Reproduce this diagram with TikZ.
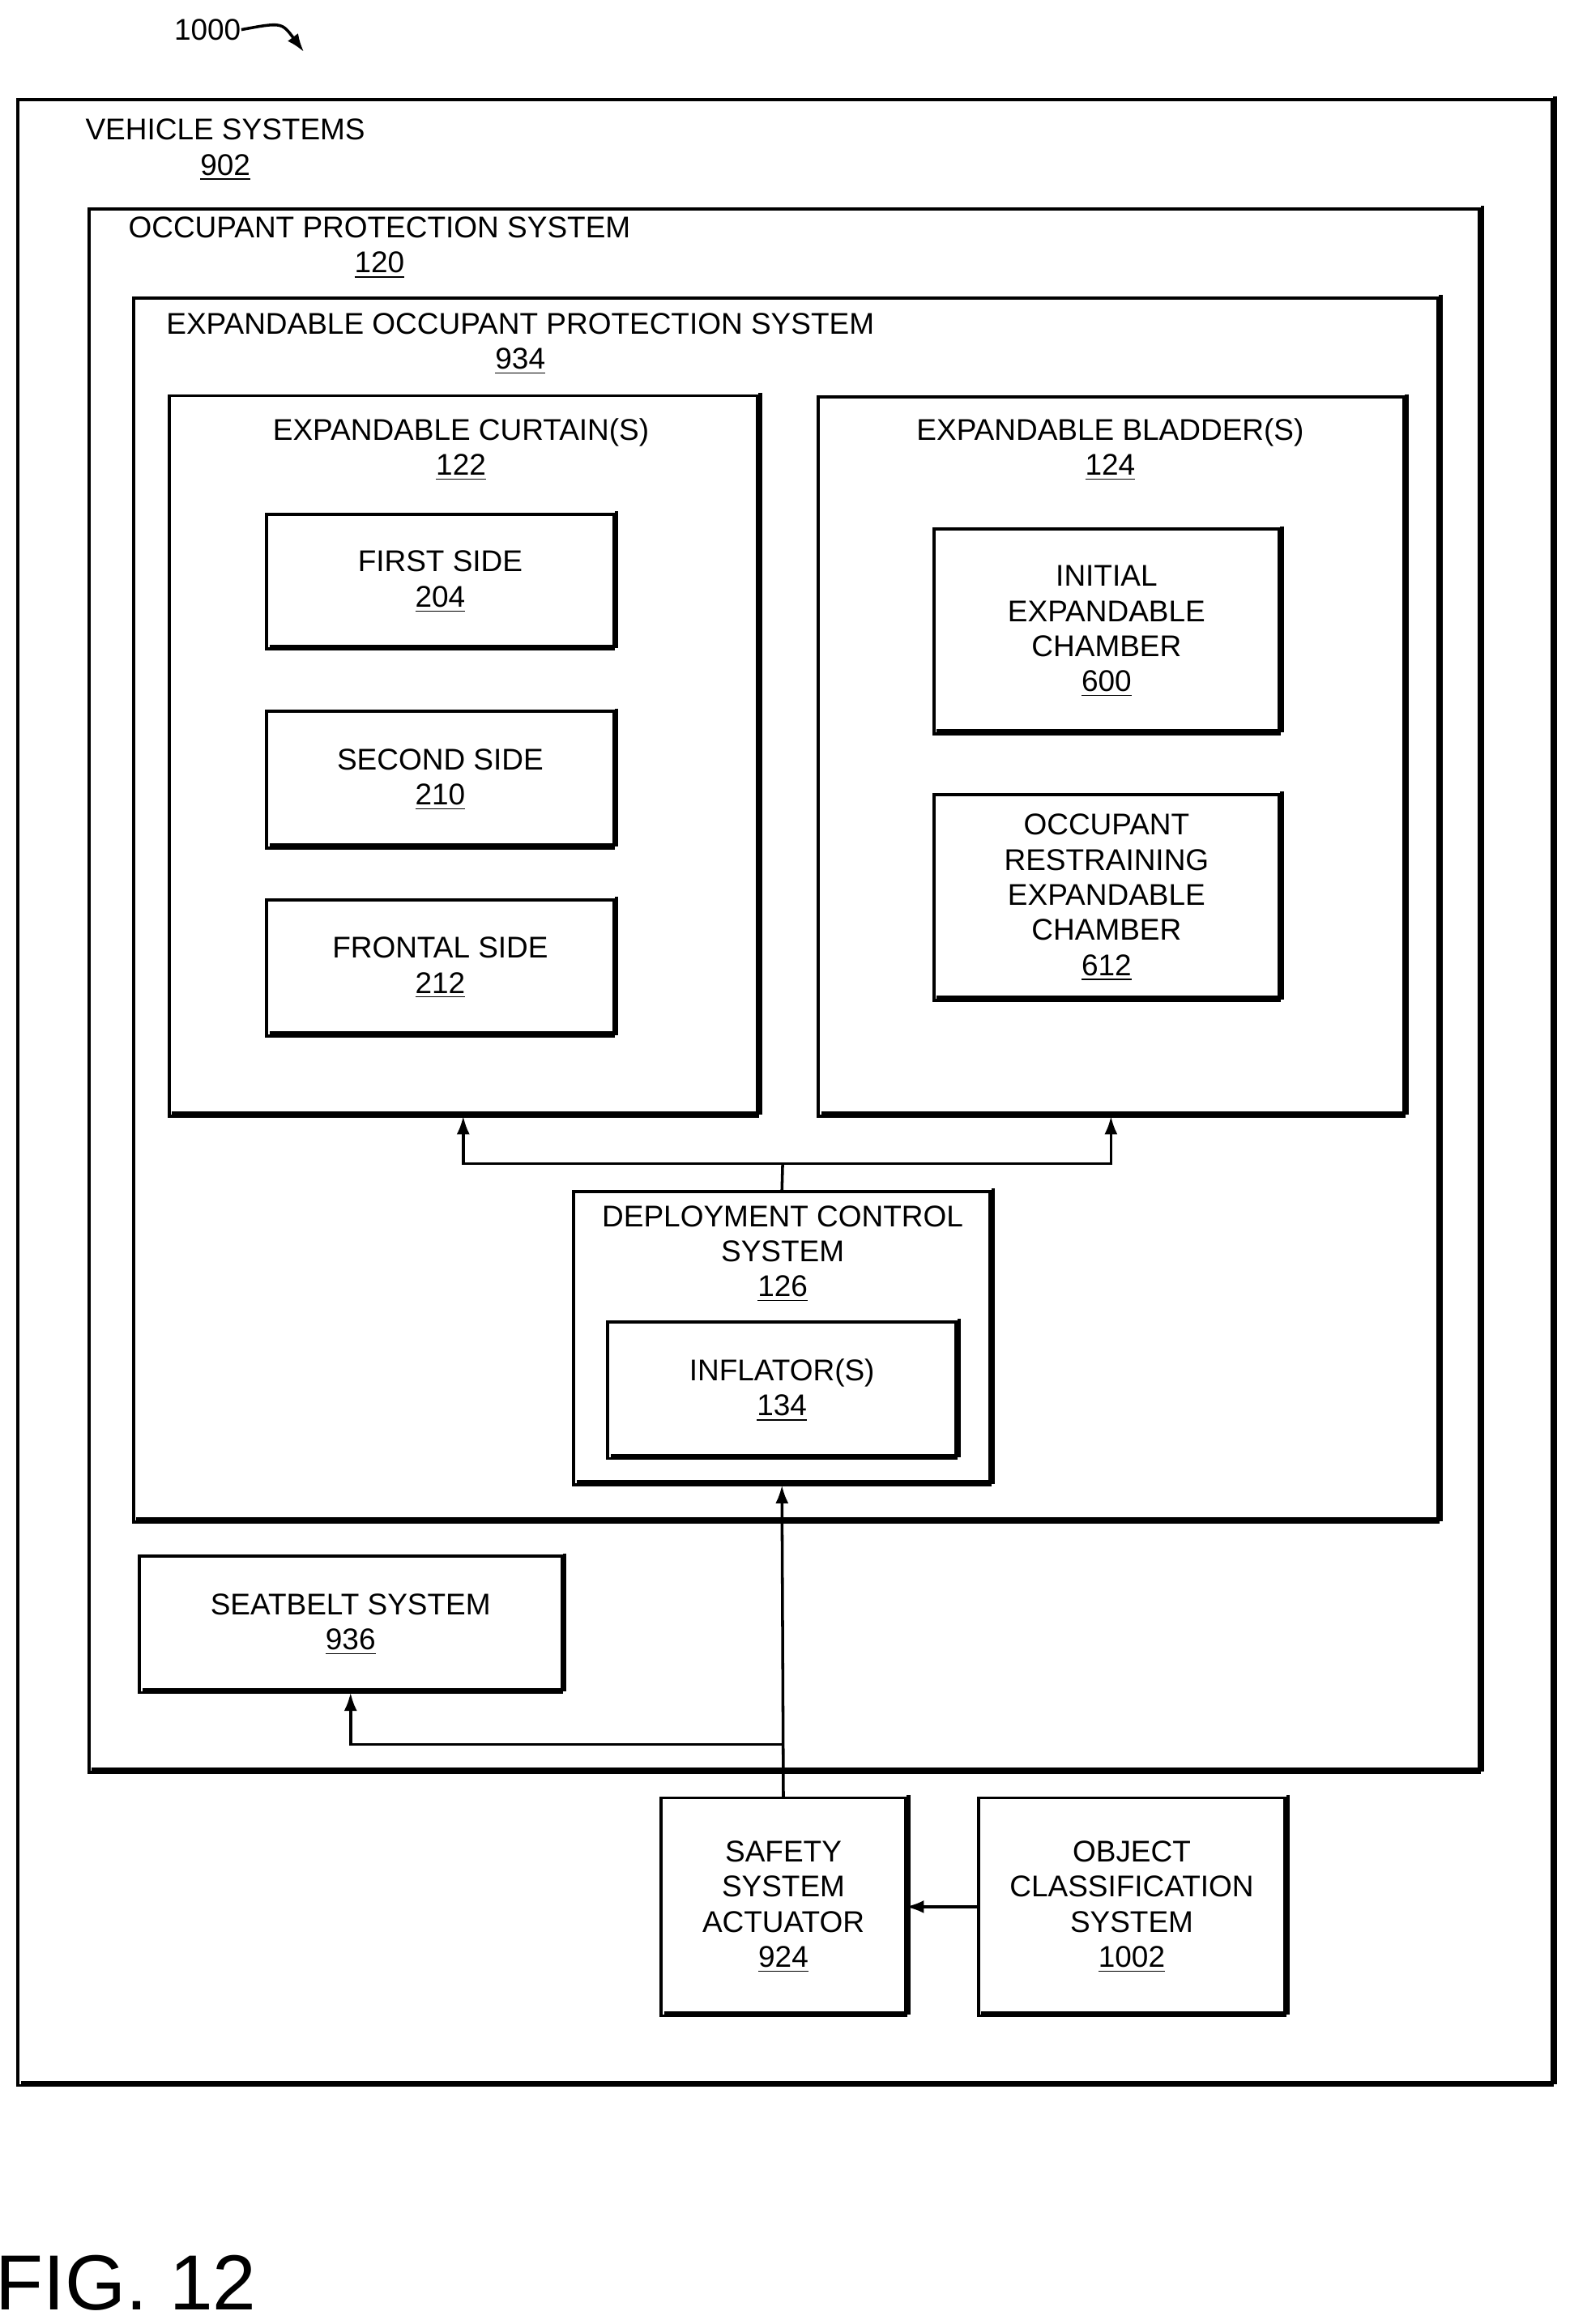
\documentclass[tikz,border=0pt]{standalone}
\usepackage{fontspec}
\setmainfont{Liberation Sans}
\usetikzlibrary{arrows,arrows.meta,positioning,calc}

% box from corners (display pixel units), name, corners
\newcommand{\mkbox}[5]{%
  \pgfmathsetmacro{\bw}{(#4-#2)*0.02}%
  \pgfmathsetmacro{\bh}{(#5-#3)*0.02}%
  \node[blk, minimum width=\bw cm, minimum height=\bh cm] (#1) at ({(#2+#4)/2},{(#3+#5)/2}) {};
  \draw[shd] ($(#1.north east)+(2,-2)$) -- ($(#1.south east)+(2,-2)$) -- ($(#1.south west)+(2,-2)$);
}

\begin{document}
\begin{tikzpicture}[x=0.02cm, y=-0.02cm, font=\fontsize{11.5}{13.5}\selectfont,
    blk/.style={draw, line width=1.2pt, inner sep=0pt, outer sep=0pt},
    shd/.style={line width=1.4pt},
    lbl/.style={align=center, inner sep=0pt},
    arr/.style={-{Latex[length=7pt,width=5pt]}, line width=1.1pt}]
    \useasboundingbox (0,0) rectangle (1059,1568);

    % outer frames
    \mkbox{veh}{12}{67}{1047}{1407}
    \node[lbl, anchor=north] (vehl) at (152,80) {VEHICLE SYSTEMS\\\underline{902}};
    \mkbox{ops}{60}{141}{998}{1196}
    \node[lbl, anchor=north] (opsl) at (256,146) {OCCUPANT PROTECTION SYSTEM\\\underline{120}};
    \mkbox{eops}{90}{201}{970}{1027}
    \node[lbl, anchor=north] (eopsl) at (351,211) {EXPANDABLE OCCUPANT PROTECTION SYSTEM\\\underline{934}};

    % curtains
    \mkbox{cur}{114}{267}{511}{753}
    \node[lbl, anchor=north] (curl) at (311,282) {EXPANDABLE CURTAIN(S)\\\underline{122}};
    \mkbox{fst}{180}{347}{414}{438}
    \node[lbl] at (fst) {FIRST SIDE\\\underline{204}};
    \mkbox{snd}{180}{480}{414}{572}
    \node[lbl] at (snd) {SECOND SIDE\\\underline{210}};
    \mkbox{frn}{180}{607}{414}{699}
    \node[lbl] at (frn) {FRONTAL SIDE\\\underline{212}};

    % bladders
    \mkbox{bld}{552}{268}{947}{753}
    \node[lbl, anchor=north] (bldl) at (749,282) {EXPANDABLE BLADDER(S)\\\underline{124}};
    \mkbox{ini}{630}{357}{863}{495}
    \node[lbl] at (ini) {INITIAL\\EXPANDABLE\\CHAMBER\\\underline{600}};
    \mkbox{ore}{630}{536}{863}{675}
    \node[lbl] at (ore) {OCCUPANT\\RESTRAINING\\EXPANDABLE\\CHAMBER\\\underline{612}};

    % deployment
    \mkbox{dcs}{387}{804}{668}{1002}
    \node[lbl, anchor=north] (dcsl) at (528,813) {DEPLOYMENT CONTROL\\SYSTEM\\\underline{126}};
    \mkbox{inf}{410}{892}{645}{984}
    \node[lbl] at (inf) {INFLATOR(S)\\\underline{134}};

    \mkbox{sbs}{94}{1050}{379}{1142}
    \node[lbl] at (sbs) {SEATBELT SYSTEM\\\underline{936}};
    \mkbox{ssa}{446}{1213}{611}{1360}
    \node[lbl] at (ssa) {SAFETY\\SYSTEM\\ACTUATOR\\\underline{924}};
    \mkbox{ocs}{660}{1213}{867}{1360}
    \node[lbl] at (ocs) {OBJECT\\CLASSIFICATION\\SYSTEM\\\underline{1002}};

    % connectors
    \coordinate (split) at (528,785);
    \coordinate (tee) at (528,1177);
    \draw[line width=1.1pt] (dcs.north) -- (split);
    \draw[arr] (split) -| (cur.south);
    \draw[arr] (split) -| (bld.south);
    \draw[arr] (ssa.north) -- (dcs.south);
    \draw[arr] (tee) -| (sbs.south);
    \draw[arr] (ocs.west) -- (ssa.east);

    % figure labels
    \node[lbl] (ref) at (140,20) {1000};
    \coordinate (refend) at (205,35);
    \draw[arr] (ref.east) .. controls (190,15) .. (refend);
    \node[lbl, font=\fontsize{30}{34}\selectfont] (fig) at (85,1540) {FIG. 12};
\end{tikzpicture}
\end{document}
